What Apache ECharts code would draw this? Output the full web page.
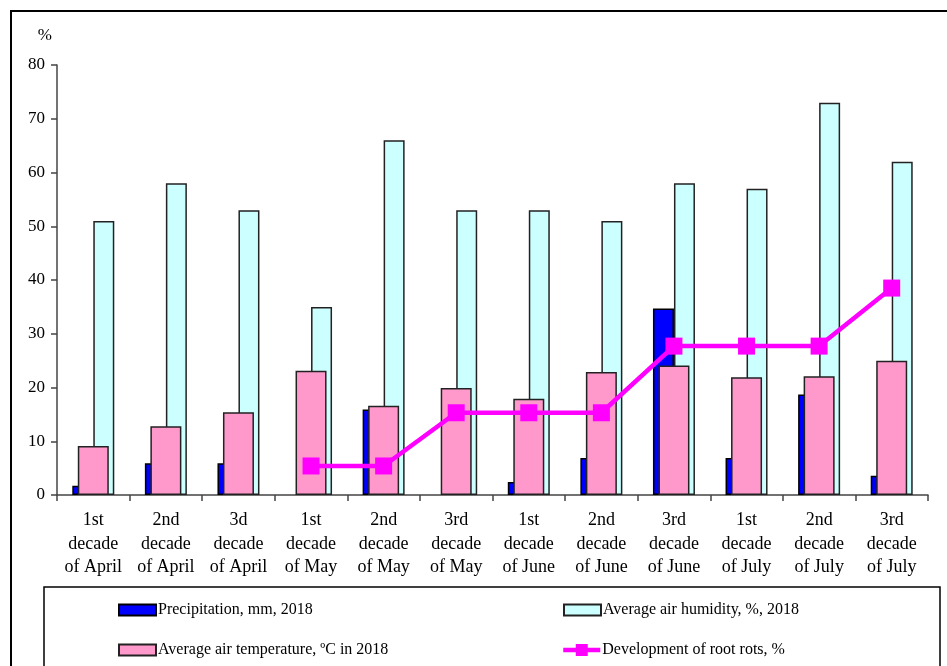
<!DOCTYPE html>
<html>
<head>
<meta charset="utf-8">
<script src="https://cdn.jsdelivr.net/npm/echarts@6/dist/echarts.min.js"></script>
<style>
  html, body { margin: 0; padding: 0; background: #fff; }
  #chart { width: 947px; height: 666px; }
</style>
</head>
<body>
<div id="chart"></div>
<script>
// Ten-day periods (decades) of the 2018 growing season
const categories = [
  '1st\ndecade\nof April', '2nd\ndecade\nof April', '3d\ndecade\nof April',
  '1st\ndecade\nof May', '2nd\ndecade\nof May', '3rd\ndecade\nof May',
  '1st\ndecade\nof June', '2nd\ndecade\nof June', '3rd\ndecade\nof June',
  '1st\ndecade\nof July', '2nd\ndecade\nof July', '3rd\ndecade\nof July'
];
const precipitation = [1.7, 5.9, 5.9, 0, 15.9, 0, 2.4, 6.9, 34.7, 6.9, 18.7, 3.6];
const humidity = [51, 58, 53, 35, 66, 53, 53, 51, 58, 57, 73, 62];
const temperature = [9.1, 12.8, 15.4, 23.1, 16.6, 19.9, 17.9, 22.9, 24.1, 21.9, 22.1, 25.0];
const rootRots = [null, null, null, 5.4, 5.4, 15.3, 15.3, 15.3, 27.7, 27.7, 27.7, 38.5];
const yTicks = { min: 0, max: 80, interval: 10 };

const names = {
  precip: 'Precipitation, mm, 2018',
  humid: 'Average air humidity, %, 2018',
  temp: 'Average air temperature, \u00BAC in 2018',
  rots: 'Development of root rots, %'
};

const FONT = '"Liberation Serif", "Times New Roman", serif';
const AXIS_COLOR = '#444';

function legendAt(name, left, top, extra) {
  return Object.assign({
    data: [name],
    left: left, top: top,
    orient: 'horizontal',
    icon: 'rect',
    itemWidth: 37, itemHeight: 11,
    itemGap: 4,
    selectedMode: false,
    textStyle: { fontFamily: FONT, fontSize: 16, color: '#000', padding: [0, 0, 0, -3] }
  }, extra || {});
}

// zero-height bars are left without an outline
const precipData = precipitation.map(v => v === 0 ? { value: v, itemStyle: { borderWidth: 0 } } : v);

const chart = echarts.init(document.getElementById('chart'));
chart.setOption({
  animation: false,
  backgroundColor: '#fff',
  textStyle: { fontFamily: FONT },
  grid: { left: 57, right: 19, top: 65, bottom: 171, containLabel: false },
  graphic: [
    { type: 'rect', shape: { x: 11, y: 11, width: 960, height: 700 },
      style: { fill: 'none', stroke: '#000', lineWidth: 2 }, z: 0 },
    { type: 'rect', shape: { x: 44, y: 587, width: 896, height: 100 },
      style: { fill: '#fff', stroke: '#000', lineWidth: 1.5 }, z: 0 }
  ],
  legend: [
    legendAt(names.precip, 113, 597),
    legendAt(names.humid, 558, 597),
    legendAt(names.temp, 113, 637),
    legendAt(names.rots, 556, 637, {
      icon: null, itemHeight: 15,
      data: [{ name: names.rots, lineStyle: { width: 4.5 } }]
    })
  ],
  xAxis: [
    {
      type: 'category', data: categories, boundaryGap: true,
      axisLine: { lineStyle: { color: AXIS_COLOR, width: 1.5 } },
      axisTick: { show: true, length: 6, lineStyle: { color: AXIS_COLOR, width: 1.5 } },
      axisLabel: { fontFamily: FONT, fontSize: 18, color: '#000', lineHeight: 23.5, margin: 14, interval: 0 }
    },
    {
      type: 'category', data: categories, show: false, position: 'bottom'
    }
  ],
  yAxis: {
    type: 'value', min: yTicks.min, max: yTicks.max, interval: yTicks.interval,
    name: '%', nameLocation: 'end', nameGap: 21,
    nameTextStyle: { fontFamily: FONT, fontSize: 17, color: '#000', align: 'right', padding: [0, 5, 0, 0] },
    splitLine: { show: false },
    axisLine: { show: true, lineStyle: { color: AXIS_COLOR, width: 1.5 } },
    axisTick: { show: true, length: 6, lineStyle: { color: AXIS_COLOR, width: 1.5 } },
    axisLabel: { fontFamily: FONT, fontSize: 17, color: '#000', margin: 12 }
  },
  series: [
    {
      name: names.precip, type: 'bar', xAxisIndex: 0, data: precipData,
      barWidth: 21, barGap: '0%', z: 2,
      itemStyle: { color: '#0000FF', borderColor: '#000', borderWidth: 1.5 }
    },
    {
      name: names.humid, type: 'bar', xAxisIndex: 0, data: humidity,
      barWidth: 21, barGap: '0%', z: 2,
      itemStyle: { color: '#CCFFFF', borderColor: '#222', borderWidth: 1.5 }
    },
    {
      name: names.temp, type: 'bar', xAxisIndex: 1, data: temperature,
      barWidth: 31, z: 3,
      itemStyle: { color: '#FF99CC', borderColor: '#222', borderWidth: 1.5 }
    },
    {
      name: names.rots, type: 'line', xAxisIndex: 0, data: rootRots,
      symbol: 'rect', symbolSize: 17, z: 5,
      connectNulls: false,
      lineStyle: { color: '#FF00FF', width: 4.5 },
      itemStyle: { color: '#FF00FF' }
    }
  ]
});
</script>
</body>
</html>
